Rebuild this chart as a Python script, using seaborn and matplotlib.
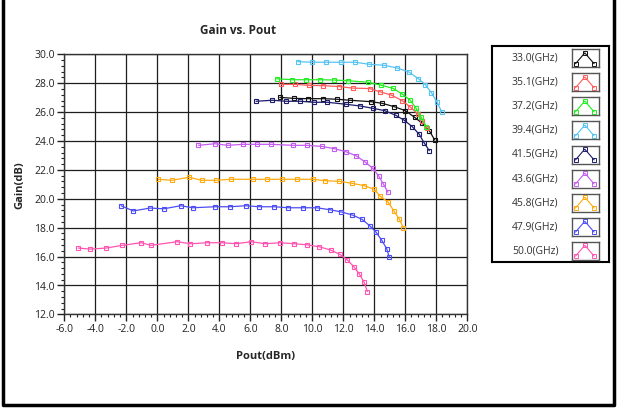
import numpy as np
import pandas as pd
import seaborn as sns
import matplotlib.pyplot as plt
from matplotlib.ticker import MultipleLocator, FormatStrFormatter
from matplotlib.lines import Line2D

freqs = ['33.0(GHz)', '35.1(GHz)', '37.2(GHz)', '39.4(GHz)', '41.5(GHz)',
         '43.6(GHz)', '45.8(GHz)', '47.9(GHz)', '50.0(GHz)']
colors = ['#111111', '#ff5c5c', '#22ee22', '#55c4f2', '#1c1c6a',
          '#c45cf0', '#ffaa10', '#4d4df5', '#ff55b0']

# Pout (dBm) / Gain (dB) per frequency
pout_330 = [7.9, 8.8, 9.7, 10.7, 11.6, 12.4, 13.8, 14.5, 15.3, 16.0, 16.6, 17.1, 17.55, 17.9]
gain_330 = [27.02, 26.95, 26.93, 26.93, 26.89, 26.82, 26.72, 26.61, 26.37, 26.1, 25.64, 25.22, 24.71, 24.07]

pout_351 = [8.0, 8.9, 9.8, 10.7, 11.7, 12.6, 13.7, 14.35, 15.1, 15.8, 16.3, 16.8, 17.1, 17.4]
gain_351 = [27.92, 27.92, 27.85, 27.83, 27.77, 27.66, 27.63, 27.41, 27.18, 26.79, 26.37, 25.87, 25.4, 24.88]

pout_372 = [7.7, 8.7, 9.6, 10.5, 11.4, 12.3, 13.6, 14.4, 15.2, 15.8, 16.3, 16.7, 17.0, 17.35]
gain_372 = [28.31, 28.24, 28.24, 28.24, 28.22, 28.17, 28.07, 27.87, 27.65, 27.25, 26.84, 26.26, 25.68, 24.99]

pout_394 = [9.06, 10.0, 10.9, 11.87, 12.77, 13.66, 14.65, 15.48, 16.22, 16.84, 17.29, 17.68, 18.05, 18.35]
gain_394 = [29.49, 29.45, 29.45, 29.45, 29.45, 29.31, 29.24, 29.05, 28.78, 28.31, 27.9, 27.35, 26.68, 26.03]

pout_415 = [6.37, 7.42, 8.3, 9.21, 10.09, 10.97, 12.19, 13.1, 13.92, 14.67, 15.38, 15.94, 16.45, 16.9, 17.21, 17.55]
gain_415 = [26.75, 26.82, 26.75, 26.75, 26.68, 26.68, 26.54, 26.42, 26.26, 26.1, 25.78, 25.43, 24.99, 24.46, 23.88, 23.33]

pout_436 = [2.65, 3.72, 4.54, 5.55, 6.45, 7.35, 8.77, 9.64, 10.6, 11.42, 12.17, 12.82, 13.38, 13.9, 14.28, 14.58, 14.88]
gain_436 = [23.7, 23.81, 23.7, 23.77, 23.77, 23.77, 23.7, 23.7, 23.63, 23.47, 23.26, 22.98, 22.57, 22.11, 21.58, 21.03, 20.45]

pout_458 = [0.06, 0.93, 2.05, 2.86, 3.77, 4.74, 6.15, 7.1, 8.06, 9.01, 10.03, 10.84, 11.74, 12.58, 13.35, 13.98, 14.39, 14.9, 15.25, 15.61, 15.87]
gain_458 = [21.35, 21.28, 21.49, 21.28, 21.28, 21.35, 21.35, 21.35, 21.35, 21.35, 21.35, 21.25, 21.21, 21.07, 20.91, 20.66, 20.17, 19.76, 19.18, 18.6, 18.0]

pout_479 = [-2.34, -1.55, -0.47, 0.43, 1.51, 2.28, 3.72, 4.69, 5.7, 6.58, 7.55, 8.45, 9.42, 10.28, 11.16, 11.87, 12.58, 13.21, 13.7, 14.11, 14.48, 14.8, 14.97]
gain_479 = [19.52, 19.16, 19.36, 19.31, 19.52, 19.38, 19.45, 19.45, 19.52, 19.45, 19.45, 19.38, 19.38, 19.38, 19.24, 19.09, 18.88, 18.58, 18.14, 17.7, 17.13, 16.55, 15.95]

pout_500 = [-5.1, -4.34, -3.31, -2.26, -1.05, -0.41, 1.29, 2.13, 3.23, 4.19, 5.08, 6.06, 6.97, 7.92, 8.84, 9.64, 10.45, 11.19, 11.79, 12.26, 12.69, 13.03, 13.34, 13.55]
gain_500 = [16.59, 16.52, 16.59, 16.78, 16.96, 16.78, 17.03, 16.89, 16.96, 16.96, 16.89, 17.03, 16.89, 16.96, 16.89, 16.82, 16.68, 16.45, 16.15, 15.77, 15.29, 14.8, 14.23, 13.58]

pouts = [pout_330, pout_351, pout_372, pout_394, pout_415, pout_436, pout_458, pout_479, pout_500]
gains = [gain_330, gain_351, gain_372, gain_394, gain_415, gain_436, gain_458, gain_479, gain_500]

rows = []
for f, xs, ys in zip(freqs, pouts, gains):
    for x, y in zip(xs, ys):
        rows.append((f, x, y))
df = pd.DataFrame(rows, columns=['Freq', 'Pout', 'Gain'])

sns.set_style('white')
plt.rcParams['font.family'] = ['Open Sans', 'DejaVu Sans']

W, H = 617, 408
fig = plt.figure(figsize=(W / 100, H / 100), dpi=100)
ax = fig.add_axes([64.3 / W, 1 - 314.4 / H, 403 / W, 260.1 / H])

sns.lineplot(data=df, x='Pout', y='Gain', hue='Freq', hue_order=freqs,
             palette=dict(zip(freqs, colors)), marker='s', markersize=3.4,
             markeredgewidth=0.8, linewidth=0.9, estimator=None, sort=False,
             legend=False, ax=ax)
for ln in ax.lines:
    ln.set_markerfacecolor('none')
    ln.set_markeredgecolor(ln.get_color())

ax.set_xlim(-6, 20)
ax.set_ylim(12, 30)
ax.xaxis.set_major_locator(MultipleLocator(2))
ax.xaxis.set_minor_locator(MultipleLocator(0.4))
ax.yaxis.set_major_locator(MultipleLocator(2))
ax.yaxis.set_minor_locator(MultipleLocator(0.4))
ax.xaxis.set_major_formatter(FormatStrFormatter('%.1f'))
ax.yaxis.set_major_formatter(FormatStrFormatter('%.1f'))
ax.grid(True, which='major', color='#1e1e1e', linewidth=0.9)
ax.set_axisbelow(True)
ax.tick_params(which='major', direction='out', length=5, width=1, labelsize=7.5,
               colors='#222222', pad=2, left=True, bottom=True)
ax.tick_params(which='minor', direction='out', length=2.5, width=0.8,
               colors='#222222', left=True, bottom=True)
for s in ax.spines.values():
    s.set_color('#333333')
    s.set_linewidth(1)
ax.set_xlabel('')
ax.set_ylabel('')

fig.text(238 / W, 1 - 30 / H, 'Gain vs. Pout', ha='center', va='center',
         fontsize=8.5, fontweight='bold')
fig.text(266 / W, 1 - 357 / H, 'Pout(dBm)', ha='center', va='center',
         fontsize=8, fontweight='bold')
fig.text(20 / W, 1 - 185 / H, 'Gain(dB)', ha='center', va='center',
         rotation=90, fontsize=8, fontweight='bold')

# legend box
lx0, lx1, ly0, ly1 = 491.7, 609, 46, 261.7
lax = fig.add_axes([lx0 / W, 1 - ly1 / H, (lx1 - lx0) / W, (ly1 - ly0) / H])
lax.set_xlim(0, 1)
lax.set_ylim(0, 1)
lax.set_xticks([])
lax.set_yticks([])
for s in lax.spines.values():
    s.set_color('black')
    s.set_linewidth(1.5)
for i, (f, c) in enumerate(zip(freqs, colors)):
    cy = 58.3 + i * 24.05
    lax.text((558.3 - lx0) / (lx1 - lx0), (ly1 - cy) / (ly1 - ly0), f,
             ha='right', va='center', fontsize=7.5, color='#333333')
    iax = fig.add_axes([571.7 / W, 1 - (cy + 9) / H, 27.3 / W, 18 / H])
    iax.plot([0.14, 0.48, 0.82], [0.2, 0.8, 0.2], color=c, lw=0.8,
             marker='s', ms=2.4, mfc='none', mew=0.7)
    iax.set_xlim(0, 1)
    iax.set_ylim(0, 1)
    iax.set_xticks([])
    iax.set_yticks([])
    for s in iax.spines.values():
        s.set_color('#555555')
        s.set_linewidth(1)

# outer frame (left, bottom, right)
fig.add_artist(Line2D([3 / W, 3 / W, 614 / W, 614 / W],
                      [1, 1 - 405 / H, 1 - 405 / H, 1],
                      transform=fig.transFigure, color='black', lw=2.5))

fig.savefig('out.png', dpi=100)
